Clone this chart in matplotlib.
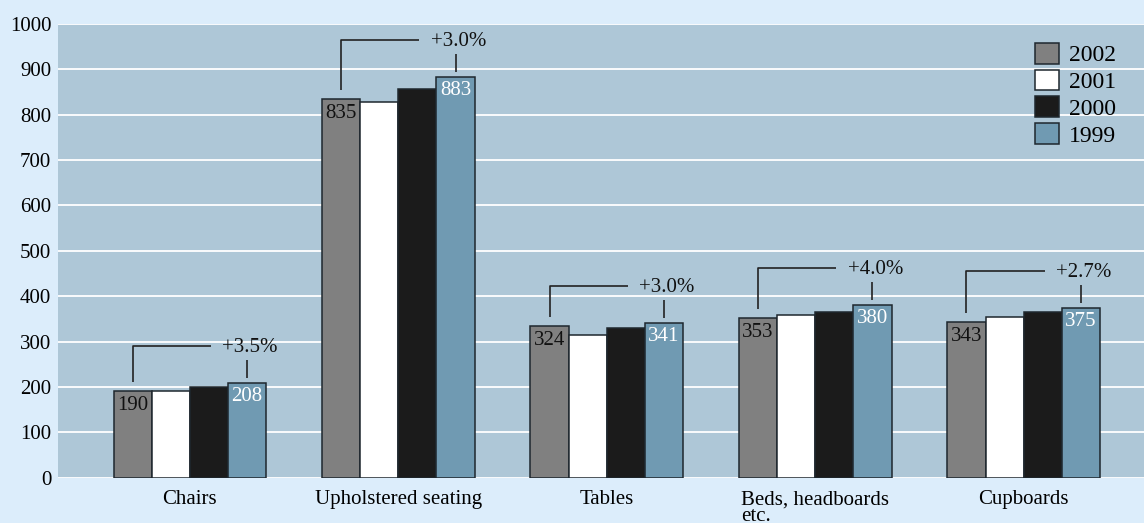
import matplotlib
matplotlib.use("Agg")
import matplotlib.pyplot as plt
from matplotlib.patches import Patch
import numpy as np

plt.rcParams['font.family'] = ['Liberation Serif', 'DejaVu Serif']

categories = ["Chairs", "Upholstered seating", "Tables", "Beds, headboards\netc.", "Cupboards"]
years = ["2002", "2001", "2000", "1999"]
v2002 = [191, 835, 334, 353, 343]
v2001 = [192, 827, 314, 358, 354]
v2000 = [201, 857, 331, 365, 365]
v1999 = [208, 883, 342, 380, 375]
labels2002 = ["190", "835", "324", "353", "343"]
labels1999 = ["208", "883", "341", "380", "375"]
changes = ["+3.5%", "+3.0%", "+3.0%", "+4.0%", "+2.7%"]
yticks = [0, 100, 200, 300, 400, 500, 600, 700, 800, 900, 1000]

colors = ["#808080", "#ffffff", "#1b1b1b", "#709ab2"]
edge = "#1e272e"
fig_bg = "#dcedfb"
ax_bg = "#aec7d7"

W, H = 1144, 523
fig = plt.figure(figsize=(W / 100, H / 100), dpi=100, facecolor=fig_bg)
ax = fig.add_axes([58.3 / W, (H - 477.7) / H, 1 - 58.3 / W, (477.7 - 24) / H])
ax.set_facecolor(ax_bg)

x = np.arange(len(categories))
bw = 0.183
series = [v2002, v2001, v2000, v1999]
for i, (vals, c) in enumerate(zip(series, colors)):
    ax.bar(x + (i - 1.5) * bw, vals, width=bw, color=c, edgecolor=edge,
           linewidth=1.1, zorder=3, label=years[i])

ax.set_ylim(0, 1000)
ax.set_xlim(-0.631, 4.577)
ax.set_yticks(yticks)
ax.set_yticklabels([str(t) for t in yticks], fontsize=15)
ax.set_xticks(x)
ax.set_xticklabels(categories, fontsize=15, linespacing=0.85, multialignment='left')
ax.tick_params(axis='both', length=0)
ax.tick_params(axis='y', pad=5)
ax.tick_params(axis='x', pad=9)
ax.yaxis.grid(True, color='white', linewidth=1.3, zorder=0)
ax.set_axisbelow(True)
for s in ax.spines.values():
    s.set_visible(False)

# units per pixel
upp = 1000 / (477.7 - 24)
for i in range(len(categories)):
    xl = x[i] - 1.5 * bw
    xr = x[i] + 1.5 * bw
    top_l = v2002[i]
    top_r = v1999[i]
    yb = top_r + 37 * upp
    # labels inside bars
    ax.text(xl, top_l - 5 * upp, labels2002[i], ha='center', va='top',
            fontsize=15, color='#111111', zorder=4)
    ax.text(xr, top_r - 4 * upp, labels1999[i], ha='center', va='top',
            fontsize=15, color='white', zorder=4)
    # bracket
    ax.plot([xl, xl, xr - 36 / 208], [top_l + 9 * upp, yb, yb],
            color='#222222', linewidth=1.2, zorder=4, solid_capstyle='butt')
    ax.plot([xr, xr], [top_r + 5 * upp, top_r + 23 * upp],
            color='#222222', linewidth=1.2, zorder=4, solid_capstyle='butt')
    ax.text(xr + 3 / 208, yb - 1.5 * upp, changes[i], ha='center', va='center',
            fontsize=15, color='#111111', zorder=4)

handles = [Patch(facecolor=c, edgecolor=edge, linewidth=1.1) for c in colors]
leg = fig.legend(handles, years, loc='upper left',
                 bbox_to_anchor=(1035 / W, (H - 43) / H), frameon=False,
                 fontsize=17, handlelength=1.0, handleheight=0.97,
                 handletextpad=0.42, labelspacing=0.14, borderpad=0,
                 borderaxespad=0)

fig.savefig("out.png", dpi=100, facecolor=fig_bg)
